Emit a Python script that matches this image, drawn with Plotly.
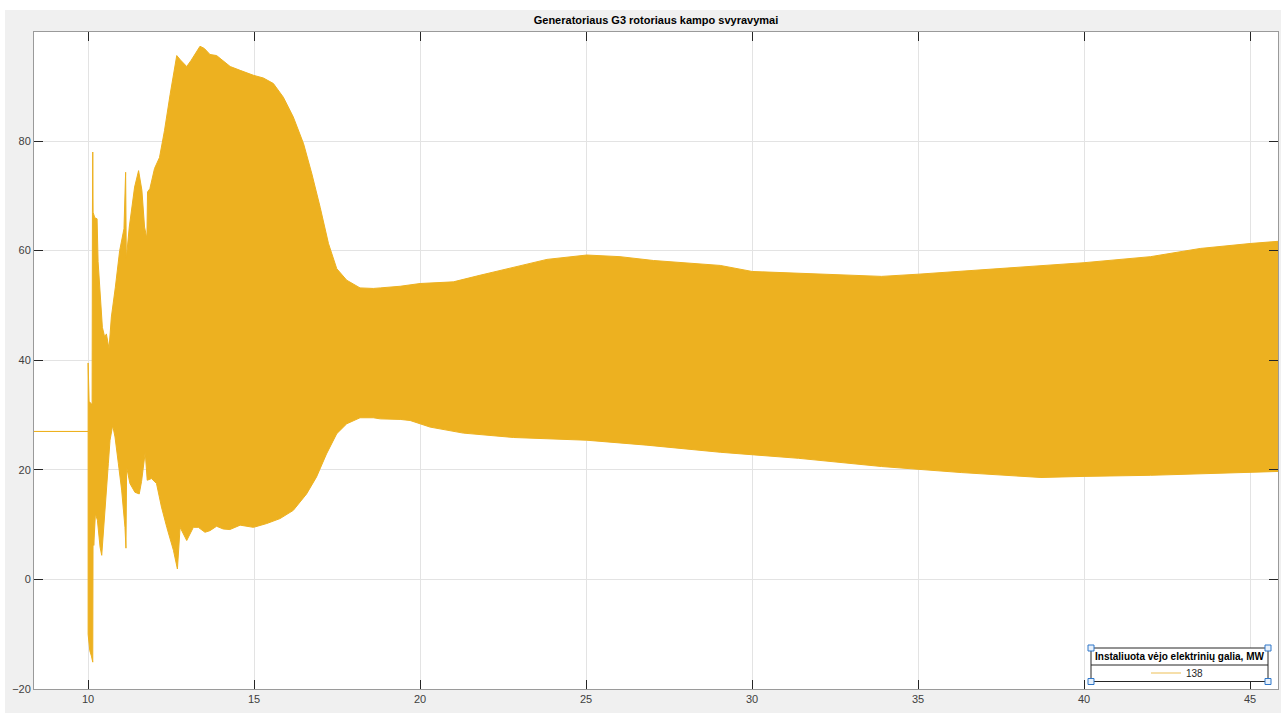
import plotly.graph_objects as go

# Upper envelope of the rotor angle oscillation (time in s, angle in degrees)
t_upper = [8.3, 10.0, 10.0, 10.01, 10.03, 10.1, 10.12, 10.13, 10.14, 10.15, 10.2, 10.27,
           10.3, 10.38, 10.43, 10.5, 10.55, 10.63, 10.7, 10.82, 10.95, 11.08, 11.13, 11.15,
           11.24, 11.4, 11.52, 11.62, 11.7, 11.77, 11.79, 11.86, 12.0, 12.15, 12.3, 12.47,
           12.67, 12.78, 12.97, 13.1, 13.37, 13.5, 13.67, 13.87, 14.0, 14.28, 14.58, 14.98,
           15.28, 15.58, 15.88, 16.18, 16.49, 16.74, 16.99, 17.24, 17.49, 17.79, 18.19, 18.59,
           18.8, 19.4, 20.0, 21.0, 21.8, 22.81, 23.82, 25.02, 26.02, 27.03, 28.03, 29.04,
           30.0, 32.0, 33.9, 35.0, 37.5, 40.0, 42.0, 43.5, 45.0, 45.84]
upper = [27.0, 27.0, 39.5, 33.0, 32.5, 32.0, 32.0, 67.0, 78.0, 67.0, 66.0, 65.8,
         58.0, 50.0, 46.0, 44.2, 44.8, 42.1, 47.9, 53.3, 60.0, 64.0, 74.3, 58.5,
         64.3, 71.6, 74.6, 71.0, 64.3, 62.2, 70.7, 71.3, 75.0, 77.0, 81.9, 88.5,
         95.6, 94.8, 93.6, 94.7, 97.3, 96.9, 95.8, 95.6, 95.0, 93.6, 92.9, 92.0,
         91.5, 90.5, 88.0, 84.4, 79.5, 74.0, 67.9, 61.3, 56.7, 54.6, 53.2, 53.1,
         53.2, 53.5, 54.0, 54.3, 55.5, 57.0, 58.4, 59.2, 58.9, 58.2, 57.7, 57.3,
         56.2, 55.7, 55.3, 55.7, 56.8, 57.8, 58.9, 60.4, 61.3, 61.7]

# Lower envelope of the rotor angle oscillation
t_lower = [8.3, 10.0, 10.0, 10.05, 10.1, 10.14, 10.15, 10.17, 10.22, 10.28, 10.36, 10.41,
           10.51, 10.61, 10.66, 10.74, 10.81, 10.91, 11.01, 11.11, 11.14, 11.16, 11.26, 11.41,
           11.54, 11.61, 11.72, 11.78, 11.91, 12.06, 12.21, 12.37, 12.57, 12.69, 12.77, 12.92,
           12.97, 13.17, 13.32, 13.52, 13.67, 13.87, 14.07, 14.27, 14.58, 14.98, 15.38, 15.78,
           16.18, 16.58, 16.88, 17.18, 17.49, 17.79, 18.19, 18.59, 18.8, 19.4, 19.7, 20.3,
           21.3, 22.81, 25.02, 26.83, 29.04, 31.4, 33.9, 36.3, 38.7, 40.0, 42.0, 45.84]
lower = [27.0, 27.0, -10.0, -13.0, -14.0, -15.1, 12.0, 6.2, 12.0, 10.8, 5.9, 4.4,
         13.2, 21.2, 25.4, 28.1, 26.0, 21.2, 16.3, 9.5, 5.7, 20.5, 17.5, 15.9,
         15.6, 17.9, 23.2, 18.1, 18.4, 17.5, 13.2, 9.5, 5.3, 1.9, 9.5, 7.7,
         7.1, 9.5, 9.5, 8.6, 8.9, 9.7, 9.2, 9.1, 9.9, 9.5, 10.2, 11.1,
         12.6, 15.6, 18.7, 22.9, 26.6, 28.4, 29.5, 29.5, 29.3, 29.2, 29.0, 27.8,
         26.7, 25.9, 25.4, 24.5, 23.2, 22.1, 20.6, 19.5, 18.6, 18.8, 19.0, 19.7]

x_ticks = [10, 15, 20, 25, 30, 35, 40, 45]
y_ticks = [-20, 0, 20, 40, 60, 80]

title_text = "Generatoriaus G3 rotoriaus kampo svyravymai"
legend_title = "Instaliuota vėjo elektrinių galia, MW"
legend_entry = "138"

COLOR = "#EDB120"
FONT = "Liberation Sans, Arial, sans-serif"

# Plot-area geometry in pixels (figure 1281 x 713)
FIG_W, FIG_H = 1281, 713
L, R, T, B = 34, 1278, 32, 689
W, H = R - L, B - T


def px(xp):
    return (xp - L) / W


def py(yp):
    return (B - yp) / H


fig = go.Figure()

# Oscillation band: upper envelope forward, lower envelope backward
fig.add_trace(go.Scatter(
    x=t_upper + t_lower[::-1],
    y=upper + lower[::-1],
    mode="lines",
    fill="toself",
    fillcolor=COLOR,
    line=dict(color=COLOR, width=1),
    showlegend=False,
    hoverinfo="skip",
))

# Legend entry
fig.add_trace(go.Scatter(
    x=[None], y=[None], mode="lines", name=legend_entry,
    line=dict(color="#f3d58e", width=1.5),
))

axis_common = dict(
    showgrid=True, gridcolor="#e3e3e3", gridwidth=1,
    showline=True, linecolor="#9a9a9a", linewidth=1, mirror="ticks",
    ticks="inside", ticklen=9, tickcolor="#262626", tickwidth=1,
    tickfont=dict(family=FONT, size=11, color="#404040"),
    zeroline=False,
)

fig.update_xaxes(range=[8.37, 45.84], tickvals=x_ticks, **axis_common)
fig.update_yaxes(range=[-20, 99.9], tickvals=y_ticks, **axis_common)

shapes = [
    # white strips along the top and left of the figure
    dict(type="rect", xref="paper", yref="paper", x0=px(0), x1=px(FIG_W), y0=py(10), y1=py(0),
         fillcolor="white", line=dict(width=0), layer="below"),
    dict(type="rect", xref="paper", yref="paper", x0=px(0), x1=px(5), y0=py(FIG_H), y1=py(0),
         fillcolor="white", line=dict(width=0), layer="below"),
    # legend box and title separator
    dict(type="rect", xref="paper", yref="paper", x0=px(1091), x1=px(1268), y0=py(681.5), y1=py(648),
         fillcolor="white", line=dict(color="#262626", width=1), layer="above"),
    dict(type="line", xref="paper", yref="paper", x0=px(1091), x1=px(1268), y0=py(665), y1=py(665),
         line=dict(color="#262626", width=1), layer="above"),
]
# selection handles at the legend corners
for cx, cy in [(1091, 648), (1268, 648), (1091, 681.5), (1268, 681.5)]:
    shapes.append(dict(type="rect", xref="paper", yref="paper",
                       x0=px(cx - 3), x1=px(cx + 3), y0=py(cy + 3), y1=py(cy - 3),
                       fillcolor="#e8f1fb", line=dict(color="#2f77c9", width=1), layer="above"))

annotations = [
    dict(text="<b>" + legend_title + "</b>", xref="paper", yref="paper",
         x=px(1179.5), y=py(656.5), xanchor="center", yanchor="middle", showarrow=False,
         font=dict(family=FONT, size=10, color="#000000")),
]

fig.update_layout(
    width=FIG_W, height=FIG_H,
    margin=dict(l=L, r=FIG_W - R, t=T, b=FIG_H - B, pad=0),
    paper_bgcolor="#f0f0f0", plot_bgcolor="white",
    title=dict(text="<b>" + title_text + "</b>", x=(L + R) / 2 / FIG_W, xanchor="center",
               y=1 - 20 / FIG_H, yanchor="middle",
               font=dict(family=FONT, size=11, color="#000000")),
    showlegend=True,
    legend=dict(x=px(1146), y=py(673), xanchor="left", yanchor="middle",
                bgcolor="rgba(0,0,0,0)", borderwidth=0,
                font=dict(family=FONT, size=10, color="#262626")),
    shapes=shapes,
    annotations=annotations,
)

fig.write_html("out.html")
